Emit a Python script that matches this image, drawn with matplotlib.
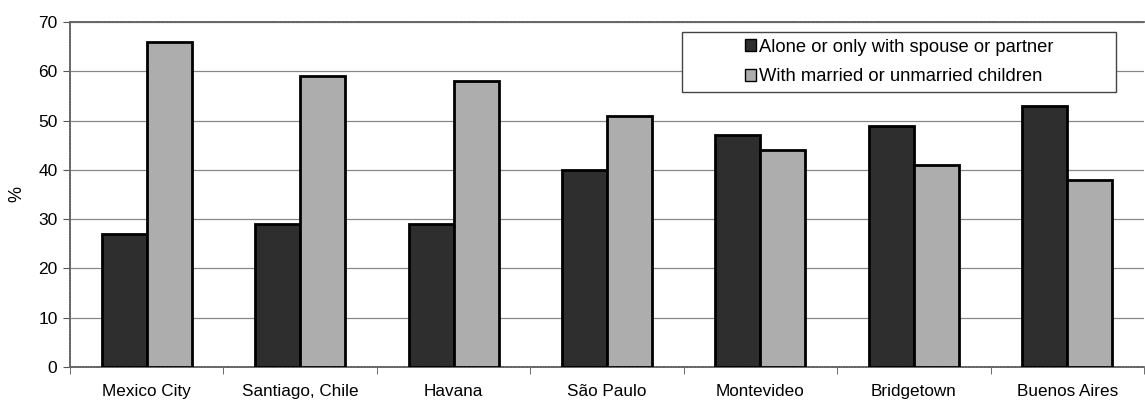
import matplotlib
matplotlib.use("Agg")
import matplotlib.pyplot as plt
from matplotlib.patches import Rectangle
import numpy as np

categories = ["Mexico City", "Santiago, Chile", "Havana", "São Paulo", "Montevideo", "Bridgetown", "Buenos Aires"]
alone = [27, 29, 29, 40, 47, 49, 53]
children = [66, 59, 58, 51, 44, 41, 38]
series_names = ["Alone or only with spouse or partner", "With married or unmarried children"]
yticks = [0, 10, 20, 30, 40, 50, 60, 70]

plt.rcParams['font.family'] = ['Liberation Sans', 'DejaVu Sans']

fig = plt.figure(figsize=(11.45, 4.04), dpi=100)
ax = fig.add_axes([70/1145, 1-367/404, 1-70/1145-1/1145, (367-22)/404])

x = np.arange(len(categories))
w = 0.293
ax.bar(x - w/2, alone, w, color="#2e2e2e", edgecolor="black", linewidth=2.0, label=series_names[0], zorder=3)
ax.bar(x + w/2, children, w, color="#adadad", edgecolor="black", linewidth=2.0, label=series_names[1], zorder=3)

ax.set_xlim(-0.5, len(categories) - 0.5)
ax.set_ylim(0, 70)
ax.set_yticks(yticks)
ax.set_xticks(x)
ax.set_xticklabels(categories, fontsize=12.3)
ax.tick_params(axis='x', length=0, pad=12)
ax.set_xticks(np.arange(-0.5, len(categories)), minor=True)
ax.tick_params(axis='x', which='minor', length=5, direction='out', color='#555555')
ax.tick_params(axis='y', labelsize=12.5, length=5, direction='out', color='#555555', pad=4)
ax.set_ylabel("%", fontsize=13, labelpad=9)

ax.yaxis.grid(True, color="#888888", linewidth=0.9, zorder=0)
ax.spines["right"].set_visible(False)
for s in ["left", "top", "bottom"]:
    ax.spines[s].set_color("#666666")
    ax.spines[s].set_linestyle((0, (1, 0.5)))
    ax.spines[s].set_linewidth(1.3)

# legend box
x0 = (683 - 70) / 1075
x1 = (1117 - 70) / 1075
y0 = (367 - 92) / 345
y1 = (367 - 32) / 345
ax.add_patch(Rectangle((x0, y0), x1 - x0, y1 - y0, transform=ax.transAxes,
                       facecolor="white", edgecolor="#444444", linewidth=1.0, zorder=5))
leg = ax.legend(loc="center", bbox_to_anchor=((x0 + x1) / 2, (y0 + y1) / 2),
                fontsize=13.2, frameon=False,
                handlelength=0.6, handleheight=0.6, handletextpad=0.2,
                borderpad=0.0, labelspacing=0.7, borderaxespad=0)
leg.set_zorder(6)
for h in leg.legend_handles:
    h.set_linewidth(1.0)

fig.savefig("out.png", dpi=100)
